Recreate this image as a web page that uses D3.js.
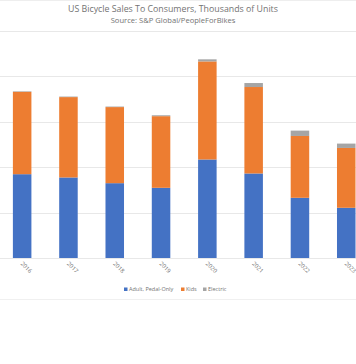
<!DOCTYPE html>
<html><head><meta charset="utf-8">
<script src="https://cdn.jsdelivr.net/npm/d3@7"></script>
<style>body{margin:0;background:#fff;}svg{display:block;font-family:"Open Sans",sans-serif;}</style>
</head><body><svg id="c" width="356" height="364"></svg>
<script>
const years = ["2016","2017","2018","2019","2020","2021","2022","2023"];
const adult = [9230, 8870, 8240, 7730, 10850, 9310, 6630, 5530];
const kids = [9070, 8850, 8380, 7890, 10800, 9520, 6810, 6590];
const electric = [60, 60, 60, 100, 230, 440, 590, 480];
const seriesNames = ["Adult, Pedal-Only", "Kids", "Electric"];
const colors = ["#4472C4", "#ED7D31", "#A5A5A5"];
const yTicks = [0, 5000, 10000, 15000, 20000, 25000];

const svg = d3.select("#c");
const rows = years.map((y, i) => ({year: y, a: adult[i], k: kids[i], e: electric[i]}));
const stack = d3.stack().keys(["a", "k", "e"])(rows);

const x = d3.scaleBand().domain(years).range([-1, 369.4]).paddingInner(0.6).paddingOuter(0.3);
const y = d3.scaleLinear().domain([0, 25000]).range([258, 31]);

svg.append("line").attr("x1", 0).attr("x2", 356).attr("y1", 0.5).attr("y2", 0.5).attr("stroke", "#eeeeee");

svg.append("text").attr("x", 173).attr("y", 12).attr("text-anchor", "middle")
  .attr("font-size", 8.8).attr("fill", "#737373").text("US Bicycle Sales To Consumers, Thousands of Units");
svg.append("text").attr("x", 173).attr("y", 22.5).attr("text-anchor", "middle")
  .attr("font-size", 7.6).attr("fill", "#737373").text("Source: S&P Global/PeopleForBikes");

svg.append("g").selectAll("line").data(yTicks).join("line")
  .attr("x1", 0).attr("x2", 356)
  .attr("y1", d => Math.round(y(d)) + 0.5).attr("y2", d => Math.round(y(d)) + 0.5)
  .attr("stroke", "#e8e8e8").attr("stroke-width", 1);

svg.append("g").selectAll("g").data(stack).join("g")
  .attr("fill", (d, i) => colors[i])
  .selectAll("rect").data(d => d).join("rect")
  .attr("x", d => x(d.data.year)).attr("width", x.bandwidth())
  .attr("y", d => y(d[1])).attr("height", d => y(d[0]) - y(d[1]));

svg.append("g").selectAll("text").data(years).join("text")
  .attr("transform", d => `translate(${x(d) + x.bandwidth() / 2 - 2},${264}) rotate(45)`)
  .attr("font-size", 5.8).attr("fill", "#737373").text(d => d);

const legX = [124, 181, 203];
const lg = svg.append("g").selectAll("g").data(seriesNames).join("g")
  .attr("transform", (d, i) => `translate(${legX[i]},291)`);
lg.append("rect").attr("x", 0).attr("y", -3.5).attr("width", 3.5).attr("height", 3.5).attr("fill", (d, i) => colors[i]);
lg.append("text").attr("x", 5).attr("y", 0).attr("font-size", 5.5).attr("fill", "#737373").text(d => d);

svg.append("line").attr("x1", 0).attr("x2", 356).attr("y1", 299.5).attr("y2", 299.5).attr("stroke", "#f0f0f0");
</script></body></html>
